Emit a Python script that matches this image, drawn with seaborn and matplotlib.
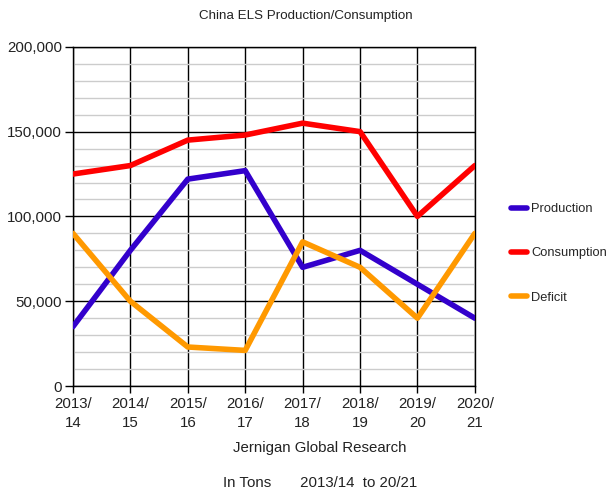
import matplotlib
matplotlib.use("Agg")
import matplotlib.pyplot as plt
import seaborn as sns
import pandas as pd
from matplotlib.ticker import MultipleLocator, FuncFormatter

seasons = ["2013/\n14", "2014/\n15", "2015/\n16", "2016/\n17", "2017/\n18", "2018/\n19", "2019/\n20", "2020/\n21"]
production = [35000, 80000, 122000, 127000, 70000, 80000, 60000, 40000]
consumption = [125000, 130000, 145000, 148000, 155000, 150000, 100000, 130000]
deficit = [90000, 50000, 23000, 21000, 85000, 70000, 40000, 90000]
series_names = ["Production", "Consumption", "Deficit"]
colors = ["#3300cc", "#ff0000", "#ff9900"]

rows = []
for name, vals in zip(series_names, [production, consumption, deficit]):
    for i, v in enumerate(vals):
        rows.append({"idx": i, "value": v, "series": name})
df = pd.DataFrame(rows)

sns.set_theme(style="white")
plt.rcParams['font.family'] = ['Liberation Sans', 'DejaVu Sans']

fig = plt.figure(figsize=(6.08, 4.93), dpi=100)
ax = fig.add_axes([0.120, 0.217, 0.661, 0.688])

ax.yaxis.set_minor_locator(MultipleLocator(10000))
ax.yaxis.set_major_locator(MultipleLocator(50000))
ax.grid(which="minor", axis="y", color="#cccccc", lw=1, zorder=0)
ax.grid(which="major", axis="y", color="#000000", lw=1, zorder=0)
ax.grid(which="major", axis="x", color="#000000", lw=1, zorder=0)
ax.set_axisbelow(True)

sns.lineplot(data=df, x="idx", y="value", hue="series", palette=colors,
             hue_order=series_names, lw=4, ax=ax, legend=False, zorder=3)

ax.set_xlim(0, len(seasons) - 1)
ax.set_ylim(0, 200000)
ax.set_xticks(range(len(seasons)))
ax.set_xticklabels(seasons, fontsize=10.8, color="#222222", linespacing=1.4)
ax.yaxis.set_major_formatter(FuncFormatter(lambda v, p: f"{int(v):,}"))
ax.tick_params(axis="y", which="major", labelsize=10.8, labelcolor="#222222",
               length=6, width=1, color="black", left=True, pad=2)
ax.tick_params(axis="y", which="minor", length=0)
ax.tick_params(axis="x", length=5, width=1, color="black", bottom=True, pad=3)
ax.set_xlabel("")
ax.set_ylabel("")
for s in ax.spines.values():
    s.set_color("black")
    s.set_linewidth(1)

handles = [plt.Line2D([0], [0], color=c, lw=4, solid_capstyle="round") for c in colors]
leg = fig.legend(handles, series_names, loc="center left", bbox_to_anchor=(0.822, 0.486),
                 frameon=False, fontsize=9.3, handlelength=1.2, handletextpad=0.35,
                 labelspacing=2.5)

fig.text(0.503, 0.967, "China ELS Production/Consumption", ha="center", va="center",
         fontsize=9.6, color="#222222")
fig.text(0.526, 0.091, "Jernigan Global Research", ha="center", va="center",
         fontsize=10.8, color="#222222")
fig.text(0.526, 0.020, "In Tons       2013/14  to 20/21", ha="center", va="center",
         fontsize=10.8, color="#222222")

fig.savefig("out.png", dpi=100)
